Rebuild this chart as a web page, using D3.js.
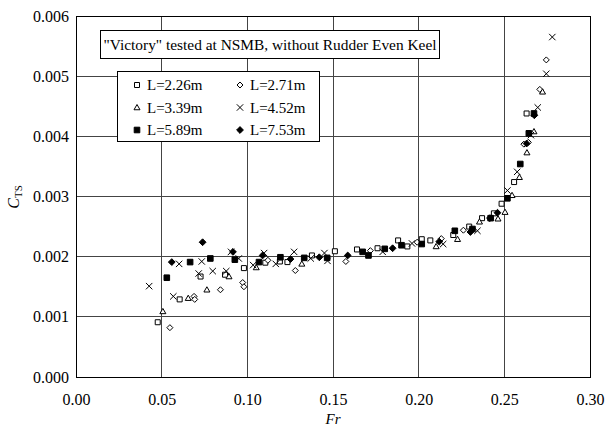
<!DOCTYPE html>
<html>
<head>
<meta charset="utf-8">
<script src="https://cdn.jsdelivr.net/npm/d3@7"></script>
<style>
  body { margin: 0; background: #fff; }
  text { font-family: "Liberation Serif", "Times New Roman", serif; fill: #000; }
  .tick text { font-family: "Liberation Serif", serif; font-size: 16px; }
</style>
</head>
<body>
<svg id="area" width="610" height="426"></svg>
<script>
// L = 2.26m (open square)
const frA = [0.0477,0.0605,0.0727,0.087,0.098,0.1105,0.119,0.1234,0.1377,0.1511,0.164,0.176,0.188,0.1934,0.2018,0.2068,0.2202,0.2295,0.237,0.2439,0.2484,0.2557,0.263];
const ctA = [0.00091,0.00129,0.00167,0.0017,0.00181,0.0019,0.00192,0.00191,0.00202,0.00209,0.00212,0.00214,0.00227,0.00217,0.00229,0.00227,0.00236,0.0025,0.00264,0.00272,0.00288,0.00324,0.00438];
// L = 2.71m (open diamond)
const frB = [0.0548,0.0689,0.0693,0.0843,0.0973,0.098,0.112,0.128,0.1575,0.1718,0.1991,0.2132,0.2261,0.2614,0.264,0.2707,0.2745];
const ctB = [0.00082,0.00134,0.00129,0.00145,0.00157,0.0015,0.00194,0.00177,0.00192,0.0021,0.00224,0.0023,0.00244,0.00387,0.0039,0.00478,0.00527];
// L = 3.39m (open triangle)
const frC = [0.0507,0.0655,0.0764,0.0893,0.1052,0.1318,0.2102,0.2227,0.2355,0.2463,0.2504,0.2545,0.2588,0.2632,0.2673,0.2723];
const ctC = [0.00109,0.00131,0.00145,0.00167,0.00182,0.00188,0.00217,0.00229,0.00258,0.00263,0.00274,0.00302,0.00332,0.00373,0.00408,0.00474];
// L = 4.52m (cross)
const frD = [0.0427,0.0568,0.0602,0.0716,0.0734,0.0798,0.0877,0.0905,0.095,0.1034,0.1098,0.1166,0.1273,0.137,0.145,0.1468,0.179,0.1961,0.2143,0.2343,0.2518,0.2575,0.2655,0.2695,0.2745,0.278];
const ctD = [0.00151,0.00134,0.00188,0.00172,0.00192,0.00176,0.00176,0.00208,0.00197,0.00186,0.00206,0.00188,0.00208,0.00197,0.00206,0.00193,0.00208,0.00222,0.00221,0.00243,0.0031,0.00341,0.00402,0.00448,0.00504,0.00565];
// L = 5.89m (filled square)
const frE = [0.053,0.0666,0.0784,0.0927,0.1068,0.1193,0.1332,0.1466,0.1673,0.1707,0.1802,0.19,0.2018,0.2211,0.2314,0.242,0.2518,0.2593,0.2643,0.2673];
const ctE = [0.00165,0.00191,0.00197,0.00195,0.00191,0.00199,0.00198,0.00198,0.00208,0.00202,0.00213,0.00219,0.00221,0.00243,0.00246,0.00264,0.00297,0.00354,0.00405,0.00438];
// L = 7.53m (filled diamond)
const frF = [0.0559,0.0739,0.0916,0.1089,0.1252,0.142,0.1586,0.1848,0.212,0.2302,0.2416,0.246,0.263,0.2675];
const ctF = [0.00191,0.00224,0.00208,0.00202,0.00196,0.00199,0.00202,0.00214,0.00225,0.00241,0.00264,0.00273,0.00388,0.00435];

const seriesNames = ["L=2.26m","L=2.71m","L=3.39m","L=4.52m","L=5.89m","L=7.53m"];
const xTicks = [0,0.05,0.10,0.15,0.20,0.25,0.30];
const yTicks = [0,0.001,0.002,0.003,0.004,0.005,0.006];
const title = "\"Victory\" tested at NSMB, without Rudder Even Keel";

const svg = d3.select("#area");
const mLeft = 76, mRight = 590, mTop = 16, mBottom = 377;
const x = d3.scaleLinear().domain([0,0.30]).range([mLeft,mRight]);
const y = d3.scaleLinear().domain([0,0.006]).range([mBottom,mTop]);

// grid
const grid = svg.append("g").attr("class","grid");
grid.selectAll("line.v").data(xTicks.slice(1,-1)).enter().append("line")
  .attr("x1",d=>x(d)).attr("x2",d=>x(d)).attr("y1",mTop).attr("y2",mBottom)
  .attr("stroke","#444").attr("stroke-width",1).attr("shape-rendering","crispEdges");
grid.selectAll("line.h").data(yTicks.slice(1,-1)).enter().append("line")
  .attr("x1",mLeft).attr("x2",mRight).attr("y1",d=>y(d)).attr("y2",d=>y(d))
  .attr("stroke","#444").attr("stroke-width",1).attr("shape-rendering","crispEdges");
svg.append("rect").attr("x",mLeft).attr("y",mTop).attr("width",mRight-mLeft).attr("height",mBottom-mTop)
  .attr("fill","none").attr("stroke","#000").attr("stroke-width",1).attr("shape-rendering","crispEdges");

// axes
const xAxis = svg.append("g").attr("transform","translate(0,"+mBottom+")")
  .call(d3.axisBottom(x).tickValues(xTicks).tickFormat(d3.format(".2f")).tickSize(0).tickPadding(17));
const yAxis = svg.append("g").attr("transform","translate("+mLeft+",0)")
  .call(d3.axisLeft(y).tickValues(yTicks).tickFormat(d3.format(".3f")).tickSize(0).tickPadding(7));
[xAxis,yAxis].forEach(a => {
  a.attr("font-family","Liberation Serif").attr("font-size",16);
  a.select(".domain").remove();
});

svg.append("text").attr("x",(mLeft+mRight)/2).attr("y",424).attr("text-anchor","middle")
  .style("font-size","15px").style("font-style","italic").text("Fr");
const yl = svg.append("text").attr("transform","translate(19,197) rotate(-90)").attr("text-anchor","middle")
  .style("font-size","16px");
yl.append("tspan").style("font-style","italic").text("C");
yl.append("tspan").attr("dy",3).style("font-size","11px").text("TS");

// markers
const sym = [
  {t:"square", r:2.5, fill:"#fff"},
  {t:"diamond", r:3, fill:"#fff"},
  {t:"triangle", r:3, fill:"#fff"},
  {t:"x", r:3.2},
  {t:"square", r:2.8, fill:"#000"},
  {t:"diamond", r:3.4, fill:"#000"}
];
function markerPath(t, r) {
  if (t === "square") return `M${-r},${-r}H${r}V${r}H${-r}Z`;
  if (t === "diamond") return `M0,${-r}L${r},0L0,${r}L${-r},0Z`;
  if (t === "triangle") return `M0,${-r}L${r},${r*0.75}L${-r},${r*0.75}Z`;
  return `M${-r},${-r}L${r},${r}M${-r},${r}L${r},${-r}`;
}
function drawMarker(g, k, px, py) {
  const m = sym[k];
  g.append("path").attr("d",markerPath(m.t,m.r)).attr("transform",`translate(${px},${py})`)
    .attr("fill",m.t === "x" ? "none" : m.fill).attr("stroke","#000").attr("stroke-width",1);
}
const series = [[frA,ctA],[frB,ctB],[frC,ctC],[frD,ctD],[frE,ctE],[frF,ctF]];
const pts = svg.append("g").attr("class","points");
series.forEach((s,k) => {
  s[0].forEach((fr,i) => drawMarker(pts,k,x(fr),y(s[1][i])));
});

// title box
svg.append("rect").attr("x",100.5).attr("y",30.5).attr("width",339).attr("height",28)
  .attr("fill","#fff").attr("stroke","#000").attr("stroke-width",1);
svg.append("text").attr("x",270).attr("y",50).attr("text-anchor","middle").style("font-size","15.4px").text(title);

// legend
svg.append("rect").attr("x",117.5).attr("y",71.5).attr("width",202).attr("height",70)
  .attr("fill","#fff").attr("stroke","#000").attr("stroke-width",1);
const lg = svg.append("g");
seriesNames.forEach((n,k) => {
  const col = k % 2, row = Math.floor(k/2);
  const sx = col ? 240 : 137, sy = 85 + row*22.5;
  drawMarker(lg,k,sx,sy);
  lg.append("text").attr("x",sx+10).attr("y",sy+5).style("font-size","15px").text(n);
});
</script>
</body>
</html>
